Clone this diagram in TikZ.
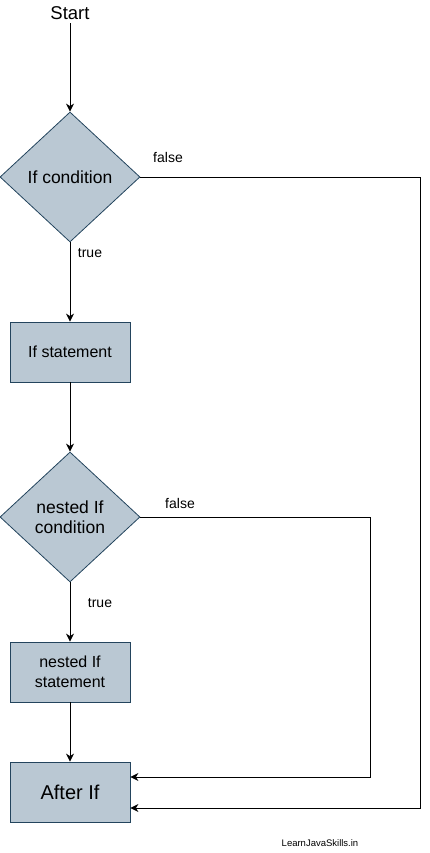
\documentclass[tikz,border=0pt]{standalone}
\usepackage{fontspec}
\setmainfont{Liberation Sans}
\usetikzlibrary{
    positioning,           % Relative positioning
    shapes.geometric,      % Diamond shapes
    arrows.meta            % Modern arrow tips
}
\definecolor{boxfill}{HTML}{BAC8D3}
\definecolor{boxline}{HTML}{23445D}

\begin{document}
\begin{tikzpicture}[x=1pt,y=-1pt,
    decision/.style={diamond, draw=boxline, fill=boxfill, line width=0.8pt,
        minimum width=140pt, minimum height=130pt, inner sep=0pt, align=center,
        font=\fontsize{17.5}{20.5}\selectfont},
    block/.style={rectangle, draw=boxline, fill=boxfill, line width=0.8pt,
        minimum width=120pt, minimum height=60pt, inner sep=0pt, align=center,
        font=\fontsize{16}{20}\selectfont},
    flow/.style={draw, line width=0.9pt, -{Stealth[length=8pt,width=8pt,inset=2.5pt]}},
    lbl/.style={inner sep=0pt, font=\fontsize{14}{16}\selectfont}]
    \useasboundingbox (0,0) rectangle (429,853);
    % nodes
    \node[font=\fontsize{18.5}{22}\selectfont] (start) at (70,13) {Start};
    \node[decision] (cond) at (70,177) {If condition};
    \node[block] (stmt) at (70,352) {If statement};
    \node[decision] (ncond) at (70,517) {nested If\\condition};
    \node[block] (nstmt) at (70,672) {nested If\\statement};
    \node[block, font=\fontsize{20}{24}\selectfont] (after) at (70,792) {After If};
    \coordinate (outer) at (420,177);
    \coordinate (inner) at (370,517);
    % connectors
    \draw[flow] (start) -- (cond);
    \draw[flow] (cond) -- (stmt);
    \draw[flow] (stmt) -- (ncond);
    \draw[flow] (ncond) -- (nstmt);
    \draw[flow] (nstmt) -- (after);
    \draw[flow] (cond.east) -- (outer) |- ([yshift=-16pt]after.east);
    \draw[flow] (ncond.east) -- (inner) |- ([yshift=15pt]after.east);
    % labels
    \node[lbl] (f1) at (168,157) {false};
    \node[lbl] (t1) at (90,253) {true};
    \node[lbl] (f2) at (180,503) {false};
    \node[lbl] (t2) at (100,603) {true};
    \node[inner sep=0pt, font=\fontsize{9.5}{11}\selectfont] (site) at (320,843) {LearnJavaSkills.in};
\end{tikzpicture}
\end{document}
